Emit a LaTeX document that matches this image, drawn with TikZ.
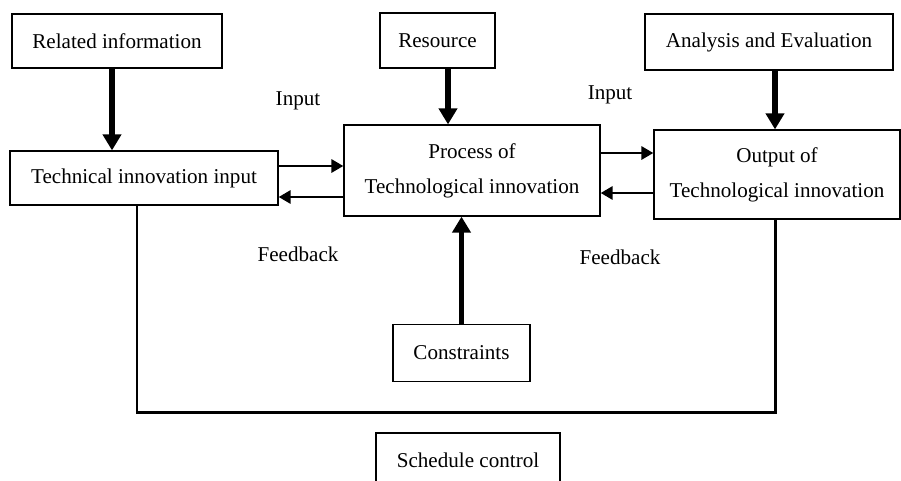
\documentclass[tikz,border=0pt]{standalone}
\usepackage{fontspec}
\setmainfont{Liberation Serif}
\usepackage{tikz}
\usetikzlibrary{positioning,calc,arrows.meta}

\begin{document}
\begin{tikzpicture}[block/.style={rectangle, draw, line width=0.7pt, align=center, font=\fontsize{12}{20}\selectfont},
    bigarrow/.style={line width=3.4pt, -{Triangle[length=0.32cm,width=0.36cm]}},
    smallarrow/.style={line width=1.7pt, -{Triangle[length=0.24cm,width=0.26cm]}},
    lbl/.style={font=\fontsize{12}{14}\selectfont}]
    \useasboundingbox (0,0) rectangle (18.02,9.6);
    \node[block, minimum width=4.2cm, minimum height=1.08cm] (relinfo) at (2.34,8.78) {Related information};
    \node[block, minimum width=2.3cm, minimum height=1.1cm] (resource) at (8.75,8.79) {Resource};
    \node[block, minimum width=4.96cm, minimum height=1.12cm] (analysis) at (15.38,8.76) {Analysis and Evaluation};
    \node[block, minimum width=5.36cm, minimum height=1.08cm] (techin) at (2.88,6.04) {Technical innovation input};
    \node[block, minimum width=5.12cm, minimum height=1.82cm] (process) at (9.44,6.19) {Process of\\Technological innovation};
    \node[block, minimum width=4.92cm, minimum height=1.78cm] (output) at (15.54,6.11) {Output of\\Technological innovation};
    \node[block, minimum width=2.74cm, minimum height=1.14cm] (constraints) at (9.23,2.54) {Constraints};
    \node[block, minimum width=3.68cm, minimum height=1.1cm] (schedule) at (9.36,0.39) {Schedule control};
    \node[lbl] (in1) at (5.96,7.58) {Input};
    \node[lbl] (in2) at (12.2,7.7) {Input};
    \node[lbl] (fb1) at (5.96,4.52) {Feedback};
    \node[lbl] (fb2) at (12.4,4.46) {Feedback};
    \coordinate (loopbot) at (0,1.36);
    % thick inputs
    \draw[bigarrow] ([xshift=-0.1cm]relinfo.south) -- ([xshift=-0.1cm]relinfo.south |- techin.north);
    \draw[bigarrow] ([xshift=0.21cm]resource.south) -- ([xshift=0.21cm]resource.south |- process.north);
    \draw[bigarrow] ([xshift=0.12cm]analysis.south) -- ([xshift=0.12cm]analysis.south |- output.north);
    \draw[bigarrow] (constraints.north) -- (constraints.north |- process.south);
    % input and feedback
    \draw[smallarrow] ([yshift=0.24cm]techin.east) -- ([yshift=0.24cm]techin.east -| process.west);
    \draw[smallarrow] ([yshift=-0.38cm]techin.east -| process.west) -- ([yshift=-0.38cm]techin.east);
    \draw[smallarrow] ([yshift=0.35cm]process.east) -- ([yshift=0.35cm]process.east -| output.west);
    \draw[smallarrow] ([yshift=-0.45cm]process.east -| output.west) -- ([yshift=-0.45cm]process.east);
    % schedule loop
    \draw[line width=1.7pt] ([xshift=-0.14cm]techin.south) -- ([xshift=-0.14cm]techin.south |- loopbot) -| ([xshift=-0.04cm]output.south);
\end{tikzpicture}
\end{document}
